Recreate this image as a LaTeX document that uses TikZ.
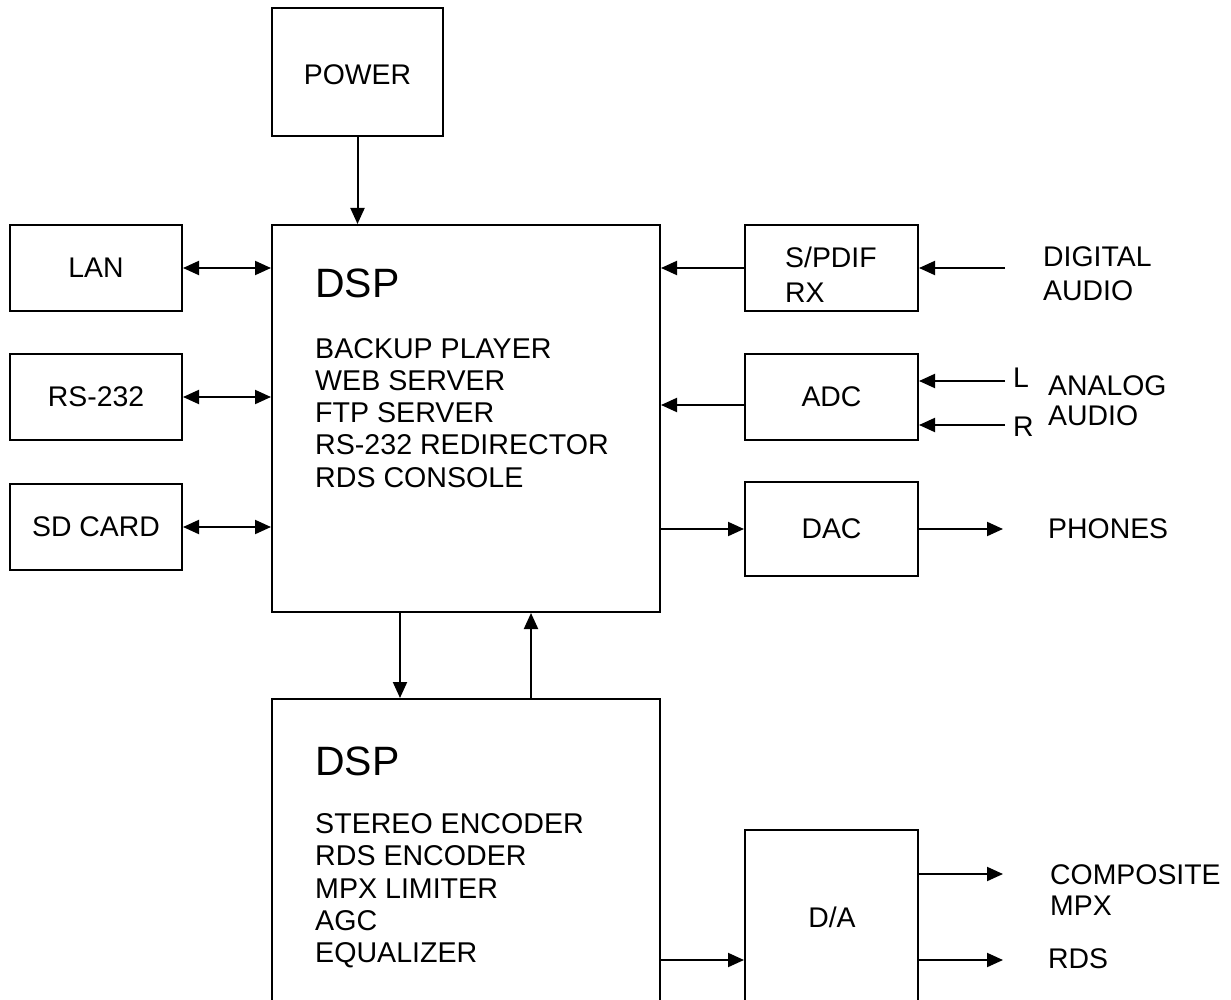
\documentclass[tikz,border=0pt]{standalone}
\usepackage{fontspec}
\setmainfont{Liberation Sans}
\usetikzlibrary{arrows.meta}
\begin{document}
\begin{tikzpicture}[x=1pt,y=-1pt,
  box/.style={draw,line width=2pt,inner sep=0pt,font=\fontsize{28.4}{32}\selectfont},
  conn/.style={line width=2pt,-{Triangle[length=16pt,width=14pt]}},
  biconn/.style={line width=2pt,{Triangle[length=16pt,width=14pt]}-{Triangle[length=16pt,width=14pt]}},
  lbl/.style={inner sep=0pt,align=left,anchor=base west},
  big/.style={font=\fontsize{41}{41}\selectfont,inner sep=0pt,anchor=base west}]
\useasboundingbox (0,0) rectangle (1231,1000);
\fill[white] (0,0) rectangle (1231,1000);
\begin{scope}
\clip (0,0) rectangle (1231,1000);
% boxes
\node[box,minimum width=171pt,minimum height=128pt] (power) at (357.5,72) {};
\node[box,minimum width=388pt,minimum height=387pt] (dsp1) at (466,418.5) {};
\node[box,minimum width=172pt,minimum height=86pt] (lan) at (96,268) {LAN};
\node[box,minimum width=172pt,minimum height=86pt] (rs) at (96,397) {RS-232};
\node[box,minimum width=172pt,minimum height=86pt] (sd) at (96,527) {SD CARD};
\node[box,minimum width=173pt,minimum height=86pt] (spdif) at (831.5,268) {};
\node[box,minimum width=173pt,minimum height=86pt] (adc) at (831.5,397) {ADC};
\node[box,minimum width=173pt,minimum height=94pt] (dac) at (831.5,529) {DAC};
\node[box,minimum width=388pt,minimum height=401pt] (dsp2) at (466,899.5) {};
\node[box,minimum width=173pt,minimum height=270pt] (da) at (831.5,965) {};
\end{scope}
% texts inside boxes
\node[inner sep=0pt,font=\fontsize{28.4}{32}\selectfont] (powert) at (357.5,75) {POWER};
\node[big] (dsp1t) at (315,298) {DSP};
\node[lbl,font=\fontsize{28.6}{32.3}\selectfont] (dsp1l) at (315,487.2) {BACKUP PLAYER\\WEB SERVER\\FTP SERVER\\RS-232 REDIRECTOR\\RDS CONSOLE};
\node[big] (dsp2t) at (315,775) {DSP};
\node[lbl,font=\fontsize{28.6}{32.25}\selectfont] (dsp2l) at (315,962.5) {STEREO ENCODER\\RDS ENCODER\\MPX LIMITER\\AGC\\EQUALIZER};
\node[lbl,font=\fontsize{28.4}{35}\selectfont] (spdift) at (785,302) {S/PDIF\\RX};
\node[inner sep=0pt,font=\fontsize{28.4}{32}\selectfont] (dat) at (832,917) {D/A};
% outside labels
\node[lbl,font=\fontsize{28.4}{33.5}\selectfont] (digt) at (1043,300.5) {DIGITAL\\AUDIO};
\node[lbl,font=\fontsize{28.4}{30}\selectfont] (anat) at (1048,425) {ANALOG\\AUDIO};
\node[lbl,font=\fontsize{28.4}{30}\selectfont] (lt) at (1013,387) {L};
\node[lbl,font=\fontsize{28.4}{30}\selectfont] (rt) at (1013,436) {R};
\node[lbl,font=\fontsize{28.4}{30}\selectfont] (pht) at (1048,538) {PHONES};
\node[lbl,font=\fontsize{28.4}{31}\selectfont] (compt) at (1050,915) {COMPOSITE\\MPX};
\node[lbl,font=\fontsize{28.4}{30}\selectfont] (rdst) at (1048,968) {RDS};
% helper coordinates
\coordinate (adcout) at ([yshift=-8pt]adc.west);
\coordinate (dn) at ([xshift=-66pt]dsp1.south);
\coordinate (up) at ([xshift=65pt]dsp1.south);
\coordinate (daout) at (660,960);
\coordinate (digin) at (1005,268);
\coordinate (lin) at (1005,381);
\coordinate (rin) at (1005,425);
\coordinate (phout) at (1003,529);
\coordinate (mpxout) at (1003,874);
\coordinate (rdsout) at (1003,960);
% connectors
\draw[conn] (power) -- (power |- dsp1.north);
\draw[biconn] (lan.east) -- (lan.east -| dsp1.west);
\draw[biconn] (rs.east) -- (rs.east -| dsp1.west);
\draw[biconn] (sd.east) -- (sd.east -| dsp1.west);
\draw[conn] (spdif.west) -- (spdif.west -| dsp1.east);
\draw[conn] (adcout) -- (adcout -| dsp1.east);
\draw[conn] (dac.west -| dsp1.east) -- (dac.west);
\draw[conn] (dn) -- (dn |- dsp2.north);
\draw[conn] (up |- dsp2.north) -- (up);
\draw[conn] (daout) -- (daout -| da.west);
\draw[conn] (digin) -- (digin -| spdif.east);
\draw[conn] (lin) -- (lin -| adc.east);
\draw[conn] (rin) -- (rin -| adc.east);
\draw[conn] (dac.east) -- (phout);
\draw[conn] (mpxout -| da.east) -- (mpxout);
\draw[conn] (rdsout -| da.east) -- (rdsout);
\end{tikzpicture}
\end{document}
